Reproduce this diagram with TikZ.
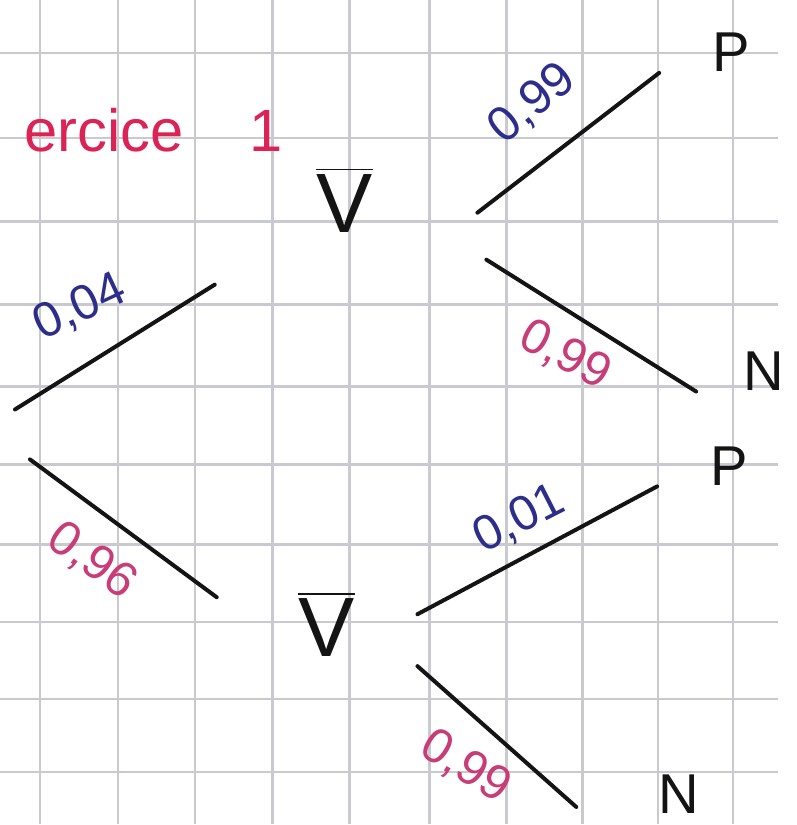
\documentclass[tikz,border=0pt]{standalone}
\usepackage{fontspec}
\setmainfont{Liberation Sans}
\definecolor{inkblack}{RGB}{20, 20, 20}
\definecolor{inkblue}{RGB}{45, 45, 140}
\definecolor{inkpink}{RGB}{200, 60, 120}
\definecolor{inkred}{RGB}{220, 35, 85}
\definecolor{gridgray}{RGB}{200, 202, 208}

\tikzset{
    branch/.style={inkblack, line width=0.4mm, line cap=round},
    leaf/.style={font=\fontsize{16}{16}\selectfont, text=inkblack},
    event/.style={font=\fontsize{24}{24}\selectfont, text=inkblack},
    probup/.style={font=\fontsize{14}{14}\selectfont, text=inkblue, inner sep=1pt},
    probdown/.style={font=\fontsize{14}{14}\selectfont, text=inkpink, inner sep=1pt}
}

\begin{document}
\begin{tikzpicture}[x=0.1mm, y=-0.1mm]

% === Hoja cuadriculada ===
\fill[white] (0,0) rectangle (779,825);
\begin{scope}
    \clip (0,0) rectangle (779,825);
    % Lineas verticales
    \foreach \x in {40,118,195,273,350,430,507,583,659,734} {
        \draw[gridgray, line width=0.25mm] (\x,0) -- (\x,825);
    }
    % Lineas horizontales
    \foreach \y in {53,138,222,305,387,465,545,623,700,773} {
        \draw[gridgray, line width=0.25mm] (0,\y) -- (779,\y);
    }
\end{scope}

% Titulo
\node[anchor=west, text=inkred, font=\fontsize{17}{17}\selectfont] (titulo) at (12,130) {ercice\hspace{1.1em}1};

% === Extremos de las ramas ===
\coordinate (r1) at (15,410);
\coordinate (v1) at (215,285);
\coordinate (r2) at (30,460);
\coordinate (v2) at (217,598);
\coordinate (a1) at (478,213);
\coordinate (p1) at (660,73);
\coordinate (a2) at (487,260);
\coordinate (n1) at (697,392);
\coordinate (b1) at (418,615);
\coordinate (p2) at (658,487);
\coordinate (b2) at (418,667);
\coordinate (n2) at (577,808);

% Ramas
\draw[branch] (r1) -- (v1);
\draw[branch] (r2) -- (v2);
\draw[branch] (a1) -- (p1);
\draw[branch] (a2) -- (n1);
\draw[branch] (b1) -- (p2);
\draw[branch] (b2) -- (n2);

% Sucesos
\node[event] (V1) at (345,200) {$\overline{\mbox{V}}$};
\node[event] (V2) at (327,625) {$\overline{\mbox{V}}$};
\node[leaf] (P1) at (732,52) {P};
\node[leaf] (N1) at (765,372) {N};
\node[leaf] (P2) at (730,467) {P};
\node[leaf] (N2) at (680,795) {N};

% Probabilidades
\node[probup, rotate=25] (q1) at (80,308) {0,04};
\node[probdown, rotate=-36] (q2) at (92,562) {0,96};
\node[probup, rotate=40] (q3) at (533,104) {0,99};
\node[probdown, rotate=-28] (q4) at (566,356) {0,99};
\node[probup, rotate=27] (q5) at (520,520) {0,01};
\node[probdown, rotate=-32] (q6) at (466,768) {0,99};

\end{tikzpicture}
\end{document}
